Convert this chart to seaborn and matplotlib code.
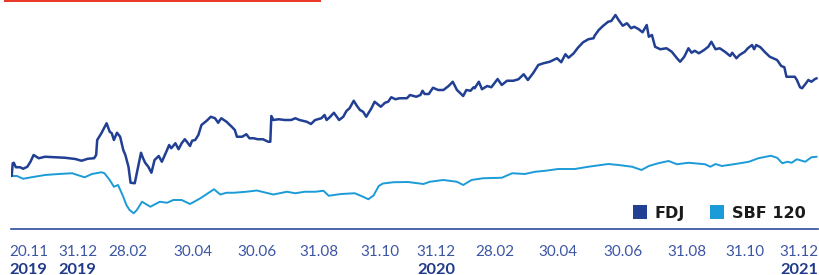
import numpy as np
import pandas as pd
import matplotlib
matplotlib.use("Agg")
import matplotlib.pyplot as plt
import matplotlib.dates as mdates
import matplotlib.transforms as mtransforms
from matplotlib.lines import Line2D
from matplotlib.patches import Rectangle
import seaborn as sns

# ---------------- data (index, base 100 at 20.11.2019) ----------------
start_date = "2019-11-20"

fdj_days = [0, 1, 2, 4, 8, 11, 15, 18, 21, 26, 32, 42, 51, 61, 67, 73, 79, 81, 82, 86, 91, 94, 96, 98,
            101, 104, 107, 109, 112, 114, 118, 121, 124, 126, 128, 131, 134, 137, 141, 144, 149, 151,
            153, 157, 160, 163, 166, 168, 171, 173, 176, 179, 182, 187, 191, 195, 198, 201, 206, 211,
            214, 216, 221, 225, 228, 232, 236, 241, 246, 248, 249, 251, 256, 262, 268, 272, 276, 283,
            287, 291, 297, 300, 302, 305, 309, 314, 318, 321, 324, 328, 331, 334, 337, 340, 345, 348,
            352, 354, 358, 361, 364, 368, 372, 379, 382, 388, 392, 394, 396, 400, 404, 409, 414, 419,
            423, 427, 433, 436, 440, 443, 444, 448, 451, 456, 460, 466, 470, 475, 481, 486, 491, 495,
            500, 505, 510, 516, 523, 527, 531, 534, 539, 543, 548, 553, 558, 559, 563, 567, 572, 575,
            579, 582, 586, 590, 594, 597, 601, 605, 609, 611, 614, 617, 622, 628, 633, 638, 641, 645,
            649, 652, 655, 659, 664, 668, 671, 675, 679, 684, 689, 691, 695, 698, 703, 706, 710, 712,
            714, 718, 722, 727, 734, 738, 741, 743, 746, 751, 753, 756, 758, 761, 764, 767, 770, 772]
fdj_values = [100.0, 110.2, 110.6, 107.0, 107.0, 105.8, 107.4, 111.4, 116.8, 114.2, 115.4, 115.0, 114.6,
              113.6, 112.2, 113.8, 114.2, 116.8, 128.8, 134.2, 142.2, 135.4, 134.2, 128.8, 134.6, 131.4,
              120.8, 116.8, 107.4, 94.6, 94.2, 106.2, 118.6, 114.2, 110.6, 107.4, 102.6, 112.8, 116.0,
              111.4, 120.8, 124.8, 122.2, 126.2, 121.4, 126.2, 129.4, 127.4, 124.0, 128.2, 128.8, 132.8,
              140.8, 144.2, 147.4, 146.2, 142.6, 146.2, 143.4, 139.4, 136.8, 131.4, 131.4, 133.4, 130.2,
              130.2, 129.4, 129.4, 127.4, 127.4, 148.0, 144.8, 145.4, 144.8, 144.8, 146.2, 144.8, 143.4,
              141.6, 144.8, 146.2, 148.8, 144.8, 147.0, 150.6, 144.8, 147.4, 152.0, 154.2, 160.2, 156.2,
              152.8, 151.4, 147.4, 154.2, 159.4, 156.8, 155.4, 158.6, 159.4, 163.0, 161.4, 162.2, 162.2,
              164.8, 163.4, 164.8, 168.2, 165.6, 165.6, 170.6, 168.8, 168.8, 172.0, 175.4, 168.8, 164.0,
              168.8, 168.2, 171.0, 170.2, 175.4, 169.4, 172.0, 171.0, 177.6, 172.8, 176.2, 176.2, 177.4,
              181.4, 176.8, 182.2, 188.8, 190.2, 191.4, 194.2, 191.0, 197.4, 194.6, 198.2, 202.6, 207.0,
              209.4, 210.2, 212.2, 216.8, 220.0, 223.4, 224.0, 228.8, 224.8, 220.2, 222.2, 218.2, 219.4,
              217.6, 215.0, 220.8, 211.4, 212.8, 203.4, 201.4, 202.2, 199.4, 194.2, 191.4, 195.4, 202.2,
              198.6, 200.2, 198.2, 200.8, 203.4, 207.4, 201.4, 202.2, 199.4, 196.0, 198.6, 194.2, 196.8,
              199.4, 202.2, 204.8, 201.4, 204.8, 203.0, 199.4, 195.4, 192.8, 188.0, 187.0, 179.4, 179.4,
              179.4, 176.8, 171.0, 170.2, 173.4, 176.8, 175.4, 177.4, 178.2]

sbf_days = [0, 5, 11, 19, 32, 45, 58, 66, 70, 77, 86, 89, 94, 98, 102, 107, 110, 113, 117, 120, 125,
            133, 142, 149, 155, 163, 171, 181, 194, 200, 206, 213, 225, 235, 245, 251, 264, 272, 281,
            291, 299, 304, 316, 329, 337, 342, 347, 352, 356, 366, 380, 395, 401, 414, 427, 433, 441,
            452, 470, 480, 492, 502, 512, 524, 540, 553, 572, 582, 595, 604, 611, 620, 630, 638, 649,
            665, 670, 675, 681, 694, 707, 716, 728, 734, 739, 744, 748, 753, 761, 767, 772]
sbf_values = [100.0, 100.0, 97.8, 99.0, 100.8, 101.6, 102.2, 100.0, 99.0, 101.6, 103.0, 102.2, 96.8, 91.4,
              92.8, 83.4, 76.8, 72.8, 70.2, 72.8, 79.4, 75.4, 79.4, 78.6, 80.8, 80.8, 77.6, 82.2, 89.4,
              85.2, 86.6, 86.6, 87.4, 88.4, 86.4, 85.2, 87.4, 86.2, 87.4, 87.4, 88.2, 84.2, 85.6, 86.2,
              83.4, 81.4, 84.4, 92.0, 94.0, 95.0, 95.2, 93.6, 95.4, 96.8, 95.4, 92.8, 96.8, 98.2, 98.6,
              102.2, 101.6, 103.4, 104.2, 105.6, 105.6, 107.4, 109.6, 108.8, 107.4, 104.8, 108.0, 110.2,
              112.0, 109.4, 110.6, 109.4, 107.4, 109.6, 108.0, 109.6, 111.4, 114.2, 116.2, 114.6, 110.2,
              111.4, 110.6, 113.4, 111.4, 115.0, 115.4]

series_names = ["FDJ", "SBF 120"]
tick_dates = ["2019-11-20", "2019-12-31", "2020-02-28", "2020-04-30", "2020-06-30", "2020-08-31",
              "2020-10-31", "2020-12-31", "2021-02-28", "2021-04-30", "2021-06-30", "2021-08-31",
              "2021-10-31", "2021-12-31"]
tick_labels = ["20.11", "31.12", "28.02", "30.04", "30.06", "31.08", "31.10", "31.12",
               "28.02", "30.04", "30.06", "31.08", "31.10", "31.12"]
year_labels = ["2019", "2019", "", "", "", "", "", "2020", "", "", "", "", "", "2021"]

# ---------------- styling ----------------
FDJ_COLOR = "#213f93"
SBF_COLOR = "#1b9bd7"
AXIS_COLOR = "#2e4c9c"
DATE_COLOR = "#3d56a3"
YEAR_COLOR = "#1f3a8a"
RED = "#e8392a"

sns.set_theme(style="white")
plt.rcParams["font.family"] = ["Lato", "DejaVu Sans"]

W, H = 819, 275
fig = plt.figure(figsize=(W / 100, H / 100), dpi=100)
ax_left, ax_right, ax_top, ax_bottom = 11, 818, 10, 228.5
ax = fig.add_axes([ax_left / W, (H - ax_bottom) / H, (ax_right - ax_left) / W, (ax_bottom - ax_top) / H])

t0 = pd.Timestamp(start_date)
fdj = pd.DataFrame({"date": t0 + pd.to_timedelta(fdj_days, unit="D"), "value": fdj_values,
                    "series": series_names[0]})
sbf = pd.DataFrame({"date": t0 + pd.to_timedelta(sbf_days, unit="D"), "value": sbf_values,
                    "series": series_names[1]})
df = pd.concat([sbf, fdj], ignore_index=True)

sns.lineplot(data=df, x="date", y="value", hue="series",
             palette={series_names[0]: FDJ_COLOR, series_names[1]: SBF_COLOR},
             ax=ax, legend=False, estimator=None, sort=True)
for ln in ax.lines:
    if ln.get_color() in (FDJ_COLOR, matplotlib.colors.to_rgba(FDJ_COLOR)):
        ln.set_linewidth(1.8)
    else:
        ln.set_linewidth(1.4)
for ln in ax.lines:
    c = matplotlib.colors.to_hex(ln.get_color())
    ln.set_linewidth(1.8 if c.lower() == FDJ_COLOR else 1.4)
    ln.set_solid_joinstyle("round")

t_end = pd.Timestamp(tick_dates[-1])
ax.set_xlim(t0 - pd.Timedelta(hours=16), t_end + pd.Timedelta(hours=30))
ax.set_ylim(58.0, 232.8)

for s in ["top", "left", "right"]:
    ax.spines[s].set_visible(False)
ax.spines["bottom"].set_color(AXIS_COLOR)
ax.spines["bottom"].set_linewidth(1.2)
ax.set_xticks([])
ax.set_yticks([])
ax.set_xlabel("")
ax.set_ylabel("")

# tick labels (dates + bold years)
label_shift_px = [-2, 23, 12, 12, 13, 10, 7, 0, -3, -3, -2, -3, -8, 2]
blend = mtransforms.blended_transform_factory(ax.transData, fig.transFigure)
for i, (d, lab, yr) in enumerate(zip(tick_dates, tick_labels, year_labels)):
    ha = "left" if i == 0 else ("right" if i == len(tick_dates) - 1 else "center")
    tr = blend + mtransforms.ScaledTranslation(label_shift_px[i] / 100, 0, fig.dpi_scale_trans)
    xd = mdates.date2num(pd.Timestamp(d))
    fig.text(xd, (H - 256) / H, lab, transform=tr, ha=ha, va="baseline",
             fontsize=11, color=DATE_COLOR, family=["Lato", "DejaVu Sans"])
    if yr:
        fig.text(xd, (H - 273.5) / H, yr, transform=tr, ha=ha, va="baseline",
                 fontsize=11.8, fontweight="bold", color=YEAR_COLOR, family=["Lato", "DejaVu Sans"])

# legend
handles = [Line2D([], [], marker="s", linestyle="", markersize=10, color=c, markeredgewidth=0)
           for c in (FDJ_COLOR, SBF_COLOR)]
leg = ax.legend(handles, series_names, loc="lower right",
                bbox_to_anchor=((806 - ax_left) / (ax_right - ax_left), 0.035),
                ncol=2, frameon=False, borderpad=0, borderaxespad=0,
                handlelength=1.0, handletextpad=0.45, columnspacing=1.5,
                prop={"family": "DejaVu Sans", "weight": "bold", "size": 11.5})
for t in leg.get_texts():
    t.set_color("#1a1a1a")

# red accent bar at the top
fig.add_artist(Rectangle((4 / W, 1 - 2.2 / H), 317 / W, 2.2 / H, transform=fig.transFigure,
                         facecolor=RED, edgecolor="none"))

fig.savefig("out.png", dpi=100)
